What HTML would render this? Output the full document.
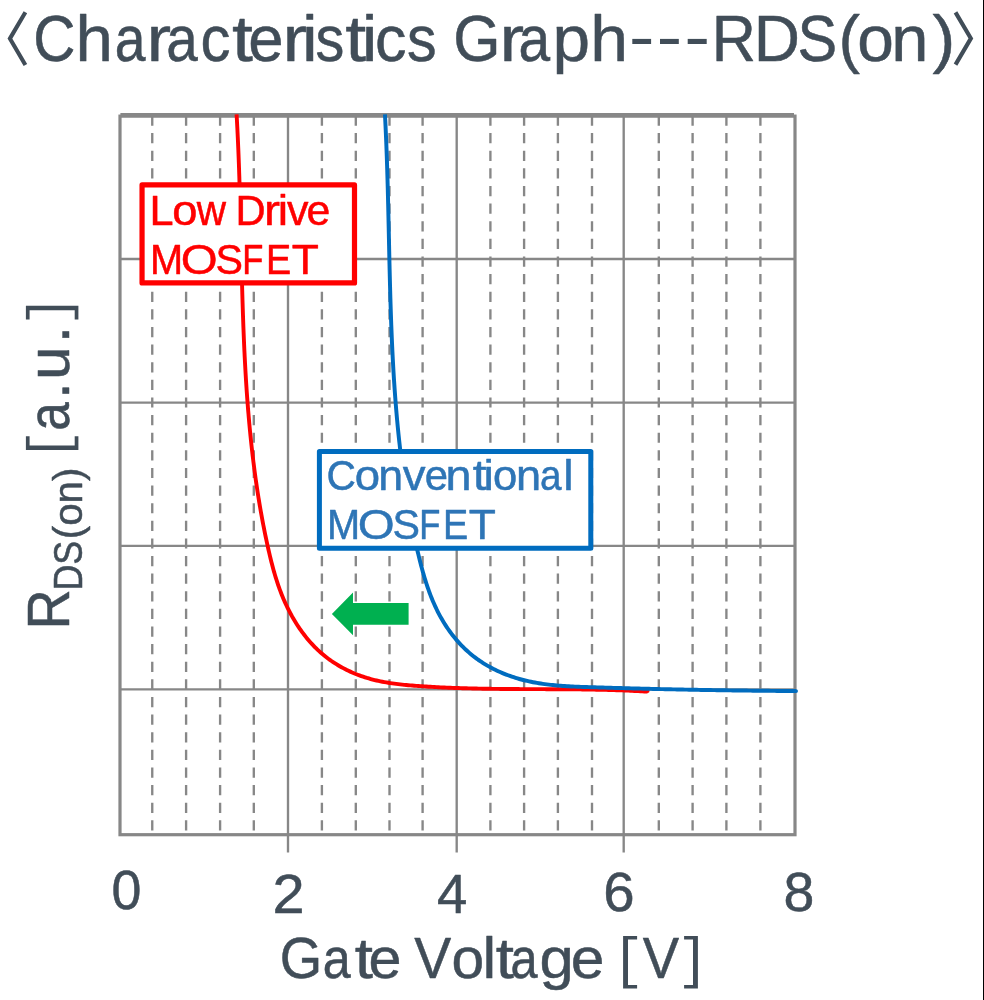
<!DOCTYPE html>
<html><head><meta charset="utf-8"><title>Characteristics Graph RDS(on)</title>
<style>
html,body{margin:0;padding:0;background:#fff;}
body{width:984px;height:1000px;overflow:hidden;}
svg{display:block;position:absolute;left:0;top:0;}
text{font-family:"Liberation Sans",sans-serif;font-kerning:none;white-space:pre;}
</style></head><body>
<svg width="984" height="1000" viewBox="0 0 984 1000">
<rect x="0" y="0" width="984" height="1000" fill="#ffffff"/>
<defs><filter id="soft" x="0" y="0" width="984" height="1000" filterUnits="userSpaceOnUse" color-interpolation-filters="sRGB"><feGaussianBlur stdDeviation="0.4"/></filter></defs>
<g filter="url(#soft)">
<g stroke="#878787" fill="none">
<line x1="152.25" y1="115.5" x2="152.25" y2="833" stroke-width="2.35" stroke-dasharray="10.2 7.42"/>
<line x1="186.1" y1="115.5" x2="186.1" y2="833" stroke-width="2.35" stroke-dasharray="10.2 7.42"/>
<line x1="220.1" y1="115.5" x2="220.1" y2="833" stroke-width="2.35" stroke-dasharray="10.2 7.42"/>
<line x1="253.8" y1="115.5" x2="253.8" y2="833" stroke-width="2.35" stroke-dasharray="10.2 7.42"/>
<line x1="321.9" y1="115.5" x2="321.9" y2="833" stroke-width="2.35" stroke-dasharray="10.2 7.42"/>
<line x1="355.8" y1="115.5" x2="355.8" y2="833" stroke-width="2.35" stroke-dasharray="10.2 7.42"/>
<line x1="389.5" y1="115.5" x2="389.5" y2="833" stroke-width="2.35" stroke-dasharray="10.2 7.42"/>
<line x1="422.6" y1="115.5" x2="422.6" y2="833" stroke-width="2.35" stroke-dasharray="10.2 7.42"/>
<line x1="490.4" y1="115.5" x2="490.4" y2="833" stroke-width="2.35" stroke-dasharray="10.2 7.42"/>
<line x1="524.1" y1="115.5" x2="524.1" y2="833" stroke-width="2.35" stroke-dasharray="10.2 7.42"/>
<line x1="557.9" y1="115.5" x2="557.9" y2="833" stroke-width="2.35" stroke-dasharray="10.2 7.42"/>
<line x1="592.0" y1="115.5" x2="592.0" y2="833" stroke-width="2.35" stroke-dasharray="10.2 7.42"/>
<line x1="658.8" y1="115.5" x2="658.8" y2="833" stroke-width="2.35" stroke-dasharray="10.2 7.42"/>
<line x1="692.6" y1="115.5" x2="692.6" y2="833" stroke-width="2.35" stroke-dasharray="10.2 7.42"/>
<line x1="726.4" y1="115.5" x2="726.4" y2="833" stroke-width="2.35" stroke-dasharray="10.2 7.42"/>
<line x1="760.4" y1="115.5" x2="760.4" y2="833" stroke-width="2.35" stroke-dasharray="10.2 7.42"/>
<line x1="120.0" y1="259.0" x2="795.0" y2="259.0" stroke-width="2.35"/>
<line x1="120.0" y1="402.6" x2="795.0" y2="402.6" stroke-width="2.35"/>
<line x1="120.0" y1="545.9" x2="795.0" y2="545.9" stroke-width="2.35"/>
<line x1="120.0" y1="689.4" x2="795.0" y2="689.4" stroke-width="2.35"/>
<line x1="288.0" y1="115.6" x2="288.0" y2="852.6" stroke-width="2.35"/>
<line x1="456.7" y1="115.6" x2="456.7" y2="852.6" stroke-width="2.35"/>
<line x1="623.7" y1="115.6" x2="623.7" y2="852.6" stroke-width="2.35"/>
<rect x="120.0" y="116.15" width="675.0" height="718.5500000000001" stroke-width="3.2"/>
<line x1="120.4" y1="114.3" x2="794.0" y2="114.3" stroke-width="2.4"/>
</g>
<path d="M236.59,114.46 L236.70,116.45 L236.82,118.44 L236.93,120.43 L237.03,122.42 L237.14,124.41 L237.24,126.40 L237.35,128.39 L237.45,130.38 L237.54,132.38 L237.64,134.37 L237.73,136.36 L237.83,138.35 L237.92,140.35 L238.01,142.34 L238.09,144.34 L238.18,146.33 L238.27,148.32 L238.35,150.32 L238.43,152.31 L238.51,154.31 L238.59,156.31 L238.66,158.30 L238.74,160.30 L238.81,162.29 L238.89,164.29 L238.96,166.29 L239.03,168.28 L239.10,170.28 L239.16,172.28 L239.23,174.28 L239.30,176.28 L239.36,178.27 L239.42,180.27 L239.49,182.27 L239.55,184.27 L239.61,186.27 L239.67,188.27 L239.72,190.27 L239.78,192.27 L239.84,194.27 L239.89,196.26 L239.95,198.26 L240.00,200.26 L240.06,202.27 L240.11,204.27 L240.16,206.27 L240.21,208.27 L240.27,210.27 L240.32,212.27 L240.37,214.27 L240.42,216.27 L240.46,218.27 L240.51,220.27 L240.56,222.27 L240.61,224.28 L240.66,226.28 L240.70,228.28 L240.75,230.28 L240.80,232.28 L240.84,234.29 L240.89,236.29 L240.94,238.29 L240.98,240.29 L241.03,242.29 L241.08,244.30 L241.12,246.30 L241.17,248.30 L241.22,250.30 L241.26,252.31 L241.31,254.31 L241.36,256.31 L241.40,258.31 L241.45,260.32 L241.50,262.32 L241.55,264.32 L241.60,266.32 L241.64,268.33 L241.69,270.33 L241.74,272.33 L241.79,274.33 L241.84,276.34 L241.89,278.34 L241.95,280.34 L242.00,282.34 L242.05,284.35 L242.11,286.35 L242.16,288.35 L242.22,290.35 L242.27,292.35 L242.33,294.36 L242.39,296.36 L242.44,298.36 L242.50,300.36 L242.56,302.36 L242.63,304.37 L242.69,306.37 L242.75,308.37 L242.82,310.37 L242.88,312.37 L242.95,314.37 L243.02,316.38 L243.09,318.38 L243.16,320.38 L243.23,322.38 L243.30,324.38 L243.37,326.38 L243.45,328.38 L243.53,330.38 L243.61,332.38 L243.69,334.38 L243.77,336.38 L243.85,338.38 L243.94,340.38 L244.02,342.38 L244.11,344.38 L244.20,346.38 L244.29,348.38 L244.38,350.37 L244.48,352.37 L244.58,354.37 L244.67,356.37 L244.78,358.37 L244.88,360.36 L244.98,362.36 L245.09,364.36 L245.20,366.36 L245.31,368.35 L245.42,370.35 L245.53,372.35 L245.65,374.34 L245.77,376.34 L245.89,378.33 L246.01,380.33 L246.14,382.32 L246.27,384.32 L246.40,386.31 L246.53,388.31 L246.66,390.30 L246.80,392.29 L246.94,394.29 L247.08,396.28 L247.23,398.27 L247.38,400.27 L247.53,402.26 L247.68,404.25 L247.84,406.24 L247.99,408.23 L248.15,410.22 L248.32,412.21 L248.49,414.20 L248.65,416.19 L248.83,418.18 L249.00,420.17 L249.18,422.16 L249.36,424.15 L249.55,426.14 L249.73,428.13 L249.92,430.11 L250.12,432.10 L250.31,434.09 L250.51,436.07 L250.71,438.06 L250.92,440.04 L251.13,442.03 L251.34,444.01 L251.56,446.00 L251.78,447.98 L252.00,449.97 L252.23,451.95 L252.46,453.93 L252.69,455.91 L252.93,457.89 L253.17,459.88 L253.41,461.86 L253.66,463.84 L253.91,465.82 L254.16,467.80 L254.42,469.78 L254.68,471.75 L254.95,473.73 L255.22,475.71 L255.49,477.69 L255.77,479.66 L256.05,481.64 L256.34,483.62 L256.63,485.59 L256.92,487.57 L257.22,489.54 L257.52,491.51 L257.83,493.49 L258.14,495.46 L258.45,497.43 L258.77,499.40 L259.09,501.38 L259.42,503.35 L259.75,505.32 L260.09,507.29 L260.43,509.25 L260.77,511.22 L261.12,513.19 L261.48,515.16 L261.84,517.12 L262.20,519.09 L262.57,521.06 L262.94,523.02 L263.31,524.99 L263.70,526.95 L264.08,528.91 L264.47,530.87 L264.87,532.84 L265.27,534.80 L265.67,536.76 L266.08,538.72 L266.50,540.68 L266.92,542.64 L267.35,544.60 L267.78,546.55 L268.21,548.51 L268.65,550.47 L269.10,552.42 L269.56,554.37 L270.02,556.33 L270.49,558.28 L270.97,560.22 L271.46,562.17 L271.96,564.11 L272.47,566.05 L272.99,567.99 L273.52,569.92 L274.06,571.86 L274.62,573.78 L275.19,575.71 L275.77,577.63 L276.37,579.54 L276.99,581.45 L277.62,583.36 L278.26,585.26 L278.92,587.16 L279.60,589.05 L280.30,590.93 L281.01,592.81 L281.75,594.69 L282.50,596.55 L283.28,598.42 L284.07,600.27 L284.89,602.12 L285.73,603.96 L286.58,605.79 L287.46,607.61 L288.36,609.43 L289.28,611.23 L290.22,613.02 L291.19,614.80 L292.17,616.57 L293.17,618.33 L294.20,620.07 L295.24,621.80 L296.31,623.51 L297.40,625.21 L298.51,626.89 L299.64,628.56 L300.79,630.21 L301.96,631.84 L303.16,633.46 L304.37,635.05 L305.61,636.63 L306.87,638.18 L308.14,639.72 L309.44,641.23 L310.76,642.72 L312.11,644.19 L313.47,645.64 L314.85,647.06 L316.26,648.46 L317.69,649.83 L319.13,651.18 L320.60,652.50 L322.10,653.79 L323.61,655.06 L325.14,656.30 L326.69,657.51 L328.27,658.69 L329.86,659.85 L331.47,660.98 L333.10,662.08 L334.74,663.16 L336.41,664.21 L338.09,665.23 L339.79,666.22 L341.50,667.19 L343.23,668.13 L344.98,669.05 L346.74,669.93 L348.51,670.79 L350.30,671.63 L352.10,672.43 L353.92,673.21 L355.74,673.96 L357.58,674.69 L359.43,675.39 L361.30,676.06 L363.17,676.71 L365.05,677.32 L366.94,677.92 L368.85,678.48 L370.76,679.02 L372.68,679.53 L374.60,680.02 L376.54,680.48 L378.48,680.91 L380.43,681.33 L382.39,681.72 L384.35,682.09 L386.32,682.44 L388.29,682.77 L390.27,683.09 L392.26,683.38 L394.24,683.66 L396.24,683.92 L398.23,684.17 L400.23,684.40 L402.23,684.62 L404.24,684.83 L406.25,685.03 L408.26,685.21 L410.27,685.39 L412.28,685.56 L414.29,685.72 L416.31,685.87 L418.32,686.01 L420.33,686.16 L422.35,686.29 L424.36,686.42 L426.37,686.55 L428.38,686.68 L430.39,686.80 L432.40,686.91 L434.41,687.02 L436.42,687.13 L438.43,687.23 L440.44,687.33 L442.44,687.43 L444.45,687.52 L446.46,687.61 L448.46,687.69 L450.47,687.78 L452.47,687.85 L454.48,687.93 L456.48,688.00 L458.49,688.07 L460.49,688.14 L462.50,688.20 L464.50,688.26 L466.50,688.32 L468.50,688.37 L470.51,688.42 L472.51,688.47 L474.51,688.52 L476.51,688.56 L478.51,688.60 L480.51,688.64 L482.51,688.68 L484.51,688.72 L486.51,688.75 L488.51,688.78 L490.51,688.81 L492.51,688.84 L494.50,688.86 L496.50,688.89 L498.50,688.91 L500.50,688.93 L502.50,688.95 L504.49,688.97 L506.49,688.99 L508.49,689.00 L510.48,689.02 L512.48,689.03 L514.48,689.04 L516.47,689.06 L518.47,689.07 L520.47,689.08 L522.46,689.09 L524.46,689.10 L526.45,689.10 L528.45,689.11 L530.45,689.12 L532.44,689.13 L534.44,689.14 L536.43,689.14 L538.43,689.15 L540.42,689.16 L542.42,689.16 L544.41,689.17 L546.41,689.18 L548.41,689.19 L550.40,689.20 L552.40,689.20 L554.39,689.21 L556.39,689.22 L558.38,689.23 L560.38,689.25 L562.37,689.26 L564.37,689.27 L566.37,689.29 L568.36,689.30 L570.36,689.32 L572.35,689.34 L574.35,689.36 L576.35,689.38 L578.34,689.40 L580.34,689.42 L582.34,689.45 L584.33,689.47 L586.33,689.50 L588.33,689.53 L590.32,689.57 L592.32,689.60 L594.32,689.64 L596.32,689.68 L598.32,689.72 L600.31,689.76 L602.31,689.81 L604.31,689.86 L606.31,689.91 L608.31,689.96 L610.31,690.02 L612.31,690.08 L614.31,690.14 L616.31,690.20 L618.31,690.27 L620.31,690.34 L622.32,690.42 L624.32,690.49 L626.32,690.57 L628.32,690.66 L630.33,690.74 L632.33,690.84 L634.33,690.93 L636.34,691.03 L638.34,691.13 L640.35,691.24 L642.35,691.35 L644.36,691.46 L646.36,691.58 L647.62,691.65" fill="none" stroke="#ff0000" stroke-width="3.9" stroke-linecap="butt" stroke-linejoin="round"/>
<circle cx="647.6" cy="691.1" r="1.95" fill="#ff0000"/>
<path d="M384.95,114.39 L385.05,116.39 L385.16,118.39 L385.26,120.38 L385.36,122.38 L385.45,124.38 L385.55,126.37 L385.64,128.37 L385.73,130.37 L385.82,132.37 L385.91,134.36 L386.00,136.36 L386.08,138.36 L386.17,140.36 L386.25,142.36 L386.33,144.35 L386.41,146.35 L386.48,148.35 L386.56,150.35 L386.63,152.35 L386.71,154.35 L386.78,156.35 L386.85,158.35 L386.92,160.34 L386.98,162.34 L387.05,164.34 L387.12,166.34 L387.18,168.34 L387.24,170.34 L387.30,172.34 L387.36,174.34 L387.42,176.34 L387.48,178.34 L387.54,180.34 L387.59,182.34 L387.65,184.34 L387.70,186.34 L387.76,188.34 L387.81,190.35 L387.86,192.35 L387.91,194.35 L387.97,196.35 L388.02,198.35 L388.06,200.35 L388.11,202.35 L388.16,204.35 L388.21,206.35 L388.26,208.35 L388.30,210.35 L388.35,212.36 L388.39,214.36 L388.44,216.36 L388.49,218.36 L388.53,220.36 L388.57,222.36 L388.62,224.36 L388.66,226.36 L388.71,228.37 L388.75,230.37 L388.79,232.37 L388.84,234.37 L388.88,236.37 L388.92,238.37 L388.97,240.37 L389.01,242.38 L389.05,244.38 L389.10,246.38 L389.14,248.38 L389.18,250.38 L389.23,252.38 L389.27,254.38 L389.32,256.38 L389.36,258.38 L389.41,260.39 L389.45,262.39 L389.50,264.39 L389.55,266.39 L389.59,268.39 L389.64,270.39 L389.69,272.39 L389.74,274.39 L389.79,276.39 L389.84,278.39 L389.89,280.39 L389.94,282.39 L389.99,284.39 L390.05,286.39 L390.10,288.39 L390.15,290.39 L390.21,292.39 L390.27,294.39 L390.32,296.39 L390.38,298.39 L390.44,300.39 L390.50,302.39 L390.56,304.39 L390.62,306.39 L390.69,308.39 L390.75,310.39 L390.82,312.39 L390.89,314.39 L390.96,316.39 L391.03,318.38 L391.10,320.38 L391.17,322.38 L391.24,324.38 L391.32,326.38 L391.40,328.38 L391.48,330.37 L391.56,332.37 L391.64,334.37 L391.72,336.37 L391.81,338.36 L391.89,340.36 L391.98,342.36 L392.07,344.35 L392.16,346.35 L392.26,348.35 L392.35,350.34 L392.45,352.34 L392.55,354.33 L392.65,356.33 L392.75,358.32 L392.86,360.32 L392.97,362.31 L393.08,364.31 L393.19,366.30 L393.30,368.30 L393.42,370.29 L393.54,372.29 L393.66,374.28 L393.78,376.27 L393.90,378.27 L394.03,380.26 L394.16,382.25 L394.29,384.24 L394.43,386.24 L394.56,388.23 L394.70,390.22 L394.85,392.21 L394.99,394.20 L395.14,396.20 L395.29,398.19 L395.44,400.18 L395.60,402.17 L395.75,404.16 L395.92,406.15 L396.08,408.14 L396.25,410.13 L396.42,412.11 L396.59,414.10 L396.76,416.09 L396.94,418.08 L397.12,420.07 L397.31,422.06 L397.49,424.04 L397.68,426.03 L397.88,428.02 L398.08,430.00 L398.28,431.99 L398.48,433.98 L398.69,435.96 L398.90,437.95 L399.11,439.93 L399.33,441.92 L399.55,443.90 L399.77,445.88 L400.00,447.87 L400.23,449.85 L400.46,451.83 L400.70,453.82 L400.94,455.80 L401.18,457.78 L401.43,459.76 L401.69,461.74 L401.94,463.72 L402.20,465.70 L402.47,467.68 L402.73,469.66 L403.00,471.64 L403.28,473.62 L403.56,475.60 L403.84,477.58 L404.13,479.56 L404.42,481.54 L404.72,483.51 L405.02,485.49 L405.32,487.47 L405.63,489.44 L405.94,491.42 L406.26,493.39 L406.58,495.37 L406.90,497.34 L407.23,499.32 L407.56,501.29 L407.90,503.26 L408.24,505.24 L408.59,507.21 L408.94,509.18 L409.30,511.15 L409.66,513.12 L410.02,515.09 L410.39,517.06 L410.77,519.03 L411.15,521.00 L411.53,522.97 L411.92,524.94 L412.31,526.91 L412.71,528.87 L413.12,530.84 L413.52,532.81 L413.94,534.77 L414.36,536.74 L414.78,538.70 L415.21,540.67 L415.64,542.63 L416.08,544.60 L416.52,546.56 L416.97,548.52 L417.42,550.49 L417.88,552.45 L418.35,554.41 L418.82,556.37 L419.30,558.33 L419.78,560.28 L420.28,562.24 L420.78,564.19 L421.29,566.14 L421.81,568.09 L422.34,570.03 L422.88,571.97 L423.43,573.91 L423.99,575.84 L424.56,577.76 L425.15,579.69 L425.75,581.60 L426.37,583.51 L426.99,585.42 L427.64,587.32 L428.30,589.21 L428.97,591.09 L429.66,592.97 L430.37,594.84 L431.09,596.70 L431.83,598.56 L432.60,600.40 L433.38,602.24 L434.18,604.07 L435.00,605.88 L435.84,607.69 L436.70,609.49 L437.58,611.28 L438.48,613.05 L439.41,614.82 L440.36,616.57 L441.34,618.32 L442.34,620.05 L443.36,621.76 L444.41,623.47 L445.48,625.16 L446.58,626.83 L447.70,628.49 L448.85,630.14 L450.02,631.76 L451.21,633.37 L452.43,634.97 L453.67,636.54 L454.93,638.09 L456.22,639.63 L457.53,641.14 L458.86,642.63 L460.22,644.10 L461.59,645.55 L462.99,646.97 L464.42,648.37 L465.86,649.74 L467.33,651.08 L468.81,652.40 L470.32,653.70 L471.85,654.96 L473.40,656.20 L474.98,657.41 L476.57,658.59 L478.18,659.75 L479.81,660.87 L481.46,661.97 L483.12,663.04 L484.81,664.09 L486.51,665.11 L488.22,666.10 L489.96,667.06 L491.70,668.00 L493.47,668.91 L495.24,669.80 L497.03,670.66 L498.84,671.49 L500.65,672.30 L502.48,673.08 L504.32,673.84 L506.17,674.57 L508.04,675.27 L509.91,675.95 L511.79,676.61 L513.68,677.24 L515.58,677.84 L517.49,678.42 L519.40,678.98 L521.32,679.51 L523.25,680.01 L525.18,680.50 L527.12,680.95 L529.07,681.39 L531.02,681.80 L532.97,682.19 L534.93,682.56 L536.90,682.91 L538.86,683.24 L540.84,683.55 L542.82,683.84 L544.80,684.12 L546.78,684.38 L548.77,684.62 L550.76,684.85 L552.75,685.06 L554.75,685.25 L556.75,685.44 L558.75,685.61 L560.76,685.77 L562.76,685.92 L564.77,686.06 L566.78,686.18 L568.79,686.30 L570.81,686.41 L572.82,686.51 L574.83,686.61 L576.85,686.70 L578.87,686.78 L580.88,686.86 L582.90,686.93 L584.91,687.00 L586.93,687.07 L588.94,687.14 L590.96,687.20 L592.97,687.26 L594.98,687.33 L597.00,687.39 L599.01,687.45 L601.02,687.51 L603.03,687.57 L605.03,687.63 L607.04,687.69 L609.05,687.75 L611.05,687.81 L613.06,687.86 L615.06,687.92 L617.06,687.98 L619.07,688.03 L621.07,688.09 L623.07,688.14 L625.07,688.20 L627.07,688.25 L629.07,688.31 L631.07,688.36 L633.07,688.41 L635.06,688.47 L637.06,688.52 L639.06,688.57 L641.05,688.62 L643.05,688.67 L645.04,688.72 L647.04,688.77 L649.03,688.82 L651.03,688.86 L653.02,688.91 L655.01,688.96 L657.01,689.01 L659.00,689.05 L660.99,689.10 L662.98,689.14 L664.97,689.19 L666.97,689.23 L668.96,689.27 L670.95,689.32 L672.94,689.36 L674.93,689.40 L676.92,689.44 L678.91,689.49 L680.90,689.53 L682.89,689.57 L684.88,689.61 L686.87,689.64 L688.86,689.68 L690.85,689.72 L692.84,689.76 L694.83,689.80 L696.83,689.83 L698.82,689.87 L700.81,689.91 L702.80,689.94 L704.79,689.98 L706.78,690.01 L708.77,690.04 L710.76,690.08 L712.76,690.11 L714.75,690.14 L716.74,690.17 L718.74,690.20 L720.73,690.24 L722.72,690.27 L724.72,690.30 L726.71,690.33 L728.71,690.35 L730.70,690.38 L732.70,690.41 L734.70,690.44 L736.69,690.46 L738.69,690.49 L740.69,690.52 L742.69,690.54 L744.69,690.57 L746.69,690.59 L748.69,690.62 L750.69,690.64 L752.69,690.66 L754.69,690.69 L756.70,690.71 L758.70,690.73 L760.71,690.75 L762.71,690.77 L764.72,690.79 L766.72,690.81 L768.73,690.83 L770.74,690.85 L772.75,690.87 L774.76,690.89 L776.77,690.90 L778.79,690.92 L780.80,690.94 L782.82,690.95 L784.83,690.97 L786.85,690.98 L788.87,691.00 L790.89,691.01 L792.91,691.03 L794.93,691.04 L796.04,691.05" fill="none" stroke="#006cbf" stroke-width="3.95" stroke-linecap="butt" stroke-linejoin="round"/>
<circle cx="796.0" cy="691.1" r="1.97" fill="#006cbf"/>
<polygon points="331.9,613.9 353.0,592.5 353.0,603.0 408.6,603.0 408.6,624.8 353.0,624.8 353.0,635.3" fill="#00b050"/>
<rect x="142.05" y="184.95" width="212.45" height="98.00" fill="#ffffff" stroke="#ff0000" stroke-width="5.2" stroke-linejoin="round"/>
<rect x="319.4" y="451.5" width="271.40" height="96.65" fill="#ffffff" stroke="#006cbf" stroke-width="5.0" stroke-linejoin="round"/>
<text transform="translate(149.55,224.80) scale(1.0004,1)" font-size="43.3" fill="#ff0000" stroke="#ff0000" stroke-width="0.5" vector-effect="non-scaling-stroke" stroke-linejoin="round">L</text>
<text transform="translate(172.30,224.80) scale(1.0843,1)" font-size="41.8" fill="#ff0000" stroke="#ff0000" stroke-width="0.5" vector-effect="non-scaling-stroke" stroke-linejoin="round">o</text>
<text transform="translate(196.86,224.80) scale(0.9687,1)" font-size="41.8" fill="#ff0000" stroke="#ff0000" stroke-width="0.5" vector-effect="non-scaling-stroke" stroke-linejoin="round">w</text>
<text transform="translate(235.38,224.80) scale(0.9631,1)" font-size="43.3" fill="#ff0000" stroke="#ff0000" stroke-width="0.5" vector-effect="non-scaling-stroke" stroke-linejoin="round">D</text>
<text transform="translate(264.01,224.80) scale(1.1500,1)" font-size="41.8" fill="#ff0000" stroke="#ff0000" stroke-width="0.5" vector-effect="non-scaling-stroke" stroke-linejoin="round">r</text>
<text transform="translate(277.67,224.80) scale(1.0800,1)" font-size="43.3" fill="#ff0000" stroke="#ff0000" stroke-width="0.5" vector-effect="non-scaling-stroke" stroke-linejoin="round">i</text>
<text transform="translate(286.95,224.80) scale(1.0284,1)" font-size="41.8" fill="#ff0000" stroke="#ff0000" stroke-width="0.5" vector-effect="non-scaling-stroke" stroke-linejoin="round">v</text>
<text transform="translate(306.58,224.80) scale(1.0248,1)" font-size="41.8" fill="#ff0000" stroke="#ff0000" stroke-width="0.5" vector-effect="non-scaling-stroke" stroke-linejoin="round">e</text>
<text transform="translate(149.94,273.90) scale(0.9183,1)" font-size="43.3" fill="#ff0000" stroke="#ff0000" stroke-width="0.5" vector-effect="non-scaling-stroke" stroke-linejoin="round">M</text>
<text transform="translate(180.75,273.90) scale(1.0962,1)" font-size="43.3" fill="#ff0000" stroke="#ff0000" stroke-width="0.5" vector-effect="non-scaling-stroke" stroke-linejoin="round">O</text>
<text transform="translate(215.43,273.90) scale(0.9508,1)" font-size="43.3" fill="#ff0000" stroke="#ff0000" stroke-width="0.5" vector-effect="non-scaling-stroke" stroke-linejoin="round">S</text>
<text transform="translate(242.36,273.90) scale(0.7985,1)" font-size="43.3" fill="#ff0000" stroke="#ff0000" stroke-width="0.5" vector-effect="non-scaling-stroke" stroke-linejoin="round">F</text>
<text transform="translate(265.90,273.90) scale(0.8735,1)" font-size="43.3" fill="#ff0000" stroke="#ff0000" stroke-width="0.5" vector-effect="non-scaling-stroke" stroke-linejoin="round">E</text>
<text transform="translate(291.80,273.90) scale(1.0252,1)" font-size="43.3" fill="#ff0000" stroke="#ff0000" stroke-width="0.5" vector-effect="non-scaling-stroke" stroke-linejoin="round">T</text>
<text transform="translate(326.53,490.40) scale(0.9409,1)" font-size="43.3" fill="#2e75b6" stroke="#2e75b6" stroke-width="0.5" vector-effect="non-scaling-stroke" stroke-linejoin="round">C</text>
<text transform="translate(354.69,490.40) scale(1.0893,1)" font-size="41.8" fill="#2e75b6" stroke="#2e75b6" stroke-width="0.5" vector-effect="non-scaling-stroke" stroke-linejoin="round">o</text>
<text transform="translate(378.23,490.40) scale(1.0700,1)" font-size="41.8" fill="#2e75b6" stroke="#2e75b6" stroke-width="0.5" vector-effect="non-scaling-stroke" stroke-linejoin="round">n</text>
<text transform="translate(402.64,490.40) scale(1.0915,1)" font-size="41.8" fill="#2e75b6" stroke="#2e75b6" stroke-width="0.5" vector-effect="non-scaling-stroke" stroke-linejoin="round">v</text>
<text transform="translate(424.63,490.40) scale(0.9993,1)" font-size="41.8" fill="#2e75b6" stroke="#2e75b6" stroke-width="0.5" vector-effect="non-scaling-stroke" stroke-linejoin="round">e</text>
<text transform="translate(445.39,490.40) scale(1.1207,1)" font-size="41.8" fill="#2e75b6" stroke="#2e75b6" stroke-width="0.5" vector-effect="non-scaling-stroke" stroke-linejoin="round">n</text>
<text transform="translate(472.69,490.40) scale(1.1500,1)" font-size="43.3" fill="#2e75b6" stroke="#2e75b6" stroke-width="0.5" vector-effect="non-scaling-stroke" stroke-linejoin="round">t</text>
<text transform="translate(483.52,490.40) scale(1.0800,1)" font-size="43.3" fill="#2e75b6" stroke="#2e75b6" stroke-width="0.5" vector-effect="non-scaling-stroke" stroke-linejoin="round">i</text>
<text transform="translate(492.97,490.40) scale(1.0437,1)" font-size="41.8" fill="#2e75b6" stroke="#2e75b6" stroke-width="0.5" vector-effect="non-scaling-stroke" stroke-linejoin="round">o</text>
<text transform="translate(515.90,490.40) scale(1.0813,1)" font-size="41.8" fill="#2e75b6" stroke="#2e75b6" stroke-width="0.5" vector-effect="non-scaling-stroke" stroke-linejoin="round">n</text>
<text transform="translate(540.05,490.40) scale(0.9268,1)" font-size="41.8" fill="#2e75b6" stroke="#2e75b6" stroke-width="0.5" vector-effect="non-scaling-stroke" stroke-linejoin="round">a</text>
<text transform="translate(563.19,490.40) scale(1.0800,1)" font-size="43.3" fill="#2e75b6" stroke="#2e75b6" stroke-width="0.5" vector-effect="non-scaling-stroke" stroke-linejoin="round">l</text>
<text transform="translate(326.94,538.90) scale(0.9183,1)" font-size="43.3" fill="#2e75b6" stroke="#2e75b6" stroke-width="0.5" vector-effect="non-scaling-stroke" stroke-linejoin="round">M</text>
<text transform="translate(357.75,538.90) scale(1.0962,1)" font-size="43.3" fill="#2e75b6" stroke="#2e75b6" stroke-width="0.5" vector-effect="non-scaling-stroke" stroke-linejoin="round">O</text>
<text transform="translate(392.43,538.90) scale(0.9508,1)" font-size="43.3" fill="#2e75b6" stroke="#2e75b6" stroke-width="0.5" vector-effect="non-scaling-stroke" stroke-linejoin="round">S</text>
<text transform="translate(419.36,538.90) scale(0.7985,1)" font-size="43.3" fill="#2e75b6" stroke="#2e75b6" stroke-width="0.5" vector-effect="non-scaling-stroke" stroke-linejoin="round">F</text>
<text transform="translate(442.90,538.90) scale(0.8735,1)" font-size="43.3" fill="#2e75b6" stroke="#2e75b6" stroke-width="0.5" vector-effect="non-scaling-stroke" stroke-linejoin="round">E</text>
<text transform="translate(468.80,538.90) scale(1.0252,1)" font-size="43.3" fill="#2e75b6" stroke="#2e75b6" stroke-width="0.5" vector-effect="non-scaling-stroke" stroke-linejoin="round">T</text>
<polyline points="25.4,12.3 9.9,38.6 25.4,65.0" fill="none" stroke="#414d58" stroke-width="4.1" stroke-linejoin="miter"/>
<polyline points="955.5,12.4 970.9,38.4 955.5,64.6" fill="none" stroke="#414d58" stroke-width="4.1" stroke-linejoin="miter"/>
<text transform="translate(33.33,60.60) scale(0.8920,1)" font-size="65.5" fill="#414d58" stroke="#414d58" stroke-width="0.5" vector-effect="non-scaling-stroke" stroke-linejoin="round">C</text>
<text transform="translate(75.53,60.60) scale(1.0278,1)" font-size="65.5" fill="#414d58" stroke="#414d58" stroke-width="0.5" vector-effect="non-scaling-stroke" stroke-linejoin="round">h</text>
<text transform="translate(114.85,60.60) scale(0.8598,1)" font-size="64.3" fill="#414d58" stroke="#414d58" stroke-width="0.5" vector-effect="non-scaling-stroke" stroke-linejoin="round">a</text>
<text transform="translate(146.59,60.60) scale(1.1500,1)" font-size="64.3" fill="#414d58" stroke="#414d58" stroke-width="0.5" vector-effect="non-scaling-stroke" stroke-linejoin="round">r</text>
<text transform="translate(166.29,60.60) scale(0.8810,1)" font-size="64.3" fill="#414d58" stroke="#414d58" stroke-width="0.5" vector-effect="non-scaling-stroke" stroke-linejoin="round">a</text>
<text transform="translate(200.46,60.60) scale(0.9306,1)" font-size="64.3" fill="#414d58" stroke="#414d58" stroke-width="0.5" vector-effect="non-scaling-stroke" stroke-linejoin="round">c</text>
<text transform="translate(231.89,60.60) scale(1.1500,1)" font-size="65.5" fill="#414d58" stroke="#414d58" stroke-width="0.5" vector-effect="non-scaling-stroke" stroke-linejoin="round">t</text>
<text transform="translate(248.30,60.60) scale(0.9877,1)" font-size="64.3" fill="#414d58" stroke="#414d58" stroke-width="0.5" vector-effect="non-scaling-stroke" stroke-linejoin="round">e</text>
<text transform="translate(282.49,60.60) scale(1.1500,1)" font-size="64.3" fill="#414d58" stroke="#414d58" stroke-width="0.5" vector-effect="non-scaling-stroke" stroke-linejoin="round">r</text>
<text transform="translate(301.96,60.60) scale(1.0800,1)" font-size="65.5" fill="#414d58" stroke="#414d58" stroke-width="0.5" vector-effect="non-scaling-stroke" stroke-linejoin="round">i</text>
<text transform="translate(315.50,60.60) scale(0.8952,1)" font-size="64.3" fill="#414d58" stroke="#414d58" stroke-width="0.5" vector-effect="non-scaling-stroke" stroke-linejoin="round">s</text>
<text transform="translate(345.14,60.60) scale(1.1500,1)" font-size="65.5" fill="#414d58" stroke="#414d58" stroke-width="0.5" vector-effect="non-scaling-stroke" stroke-linejoin="round">t</text>
<text transform="translate(361.76,60.60) scale(1.0800,1)" font-size="65.5" fill="#414d58" stroke="#414d58" stroke-width="0.5" vector-effect="non-scaling-stroke" stroke-linejoin="round">i</text>
<text transform="translate(374.93,60.60) scale(0.9775,1)" font-size="64.3" fill="#414d58" stroke="#414d58" stroke-width="0.5" vector-effect="non-scaling-stroke" stroke-linejoin="round">c</text>
<text transform="translate(407.05,60.60) scale(0.9202,1)" font-size="64.3" fill="#414d58" stroke="#414d58" stroke-width="0.5" vector-effect="non-scaling-stroke" stroke-linejoin="round">s</text>
<text transform="translate(453.14,60.60) scale(0.9284,1)" font-size="65.5" fill="#414d58" stroke="#414d58" stroke-width="0.5" vector-effect="non-scaling-stroke" stroke-linejoin="round">G</text>
<text transform="translate(499.49,60.60) scale(1.1500,1)" font-size="64.3" fill="#414d58" stroke="#414d58" stroke-width="0.5" vector-effect="non-scaling-stroke" stroke-linejoin="round">r</text>
<text transform="translate(518.59,60.60) scale(0.8841,1)" font-size="64.3" fill="#414d58" stroke="#414d58" stroke-width="0.5" vector-effect="non-scaling-stroke" stroke-linejoin="round">a</text>
<text transform="translate(552.54,60.60) scale(1.0513,1)" font-size="64.3" fill="#414d58" stroke="#414d58" stroke-width="0.5" vector-effect="non-scaling-stroke" stroke-linejoin="round">p</text>
<text transform="translate(590.18,60.60) scale(1.0386,1)" font-size="65.5" fill="#414d58" stroke="#414d58" stroke-width="0.5" vector-effect="non-scaling-stroke" stroke-linejoin="round">h</text>
<rect x="632.3" y="38.9" width="18.8" height="5.1" fill="#414d58"/>
<rect x="660.0" y="38.9" width="18.8" height="5.1" fill="#414d58"/>
<rect x="687.7" y="38.9" width="19.0" height="5.1" fill="#414d58"/>
<text transform="translate(711.68,60.60) scale(0.9334,1)" font-size="65.5" fill="#414d58" stroke="#414d58" stroke-width="0.5" vector-effect="non-scaling-stroke" stroke-linejoin="round">R</text>
<text transform="translate(753.75,60.60) scale(0.9769,1)" font-size="65.5" fill="#414d58" stroke="#414d58" stroke-width="0.5" vector-effect="non-scaling-stroke" stroke-linejoin="round">D</text>
<text transform="translate(797.49,60.60) scale(0.9096,1)" font-size="65.5" fill="#414d58" stroke="#414d58" stroke-width="0.5" vector-effect="non-scaling-stroke" stroke-linejoin="round">S</text>
<text transform="translate(838.50,60.60) scale(0.9847,1)" font-size="65.5" fill="#414d58" stroke="#414d58" stroke-width="0.5" vector-effect="non-scaling-stroke" stroke-linejoin="round">(</text>
<text transform="translate(857.13,60.60) scale(1.0244,1)" font-size="64.3" fill="#414d58" stroke="#414d58" stroke-width="0.5" vector-effect="non-scaling-stroke" stroke-linejoin="round">o</text>
<text transform="translate(891.16,60.60) scale(1.0397,1)" font-size="64.3" fill="#414d58" stroke="#414d58" stroke-width="0.5" vector-effect="non-scaling-stroke" stroke-linejoin="round">n</text>
<text transform="translate(932.60,60.60) scale(1.0422,1)" font-size="65.5" fill="#414d58" stroke="#414d58" stroke-width="0.5" vector-effect="non-scaling-stroke" stroke-linejoin="round">)</text>
<text transform="translate(111.50,909.10) scale(0.9704,1)" font-size="55.4" fill="#414d58" stroke="#414d58" stroke-width="0.5" vector-effect="non-scaling-stroke" stroke-linejoin="round">0</text>
<text transform="translate(272.40,913.00) scale(1.0421,1)" font-size="55.4" fill="#414d58" stroke="#414d58" stroke-width="0.5" vector-effect="non-scaling-stroke" stroke-linejoin="round">2</text>
<text transform="translate(437.05,913.00) scale(0.9851,1)" font-size="55.4" fill="#414d58" stroke="#414d58" stroke-width="0.5" vector-effect="non-scaling-stroke" stroke-linejoin="round">4</text>
<text transform="translate(603.34,910.80) scale(1.0171,1)" font-size="55.4" fill="#414d58" stroke="#414d58" stroke-width="0.5" vector-effect="non-scaling-stroke" stroke-linejoin="round">6</text>
<text transform="translate(783.49,910.80) scale(1.0002,1)" font-size="55.4" fill="#414d58" stroke="#414d58" stroke-width="0.5" vector-effect="non-scaling-stroke" stroke-linejoin="round">8</text>
<text transform="translate(279.86,978.20) scale(0.9567,1)" font-size="57.0" fill="#414d58" stroke="#414d58" stroke-width="0.5" vector-effect="non-scaling-stroke" stroke-linejoin="round">G</text>
<text transform="translate(322.77,978.20) scale(0.8812,1)" font-size="57.0" fill="#414d58" stroke="#414d58" stroke-width="0.5" vector-effect="non-scaling-stroke" stroke-linejoin="round">a</text>
<text transform="translate(354.84,978.20) scale(1.1500,1)" font-size="57.0" fill="#414d58" stroke="#414d58" stroke-width="0.5" vector-effect="non-scaling-stroke" stroke-linejoin="round">t</text>
<text transform="translate(368.58,978.20) scale(1.0394,1)" font-size="57.0" fill="#414d58" stroke="#414d58" stroke-width="0.5" vector-effect="non-scaling-stroke" stroke-linejoin="round">e</text>
<text transform="translate(414.26,978.20) scale(0.9729,1)" font-size="57.0" fill="#414d58" stroke="#414d58" stroke-width="0.5" vector-effect="non-scaling-stroke" stroke-linejoin="round">V</text>
<text transform="translate(451.44,978.20) scale(1.0292,1)" font-size="57.0" fill="#414d58" stroke="#414d58" stroke-width="0.5" vector-effect="non-scaling-stroke" stroke-linejoin="round">o</text>
<text transform="translate(482.60,978.20) scale(1.0800,1)" font-size="57.0" fill="#414d58" stroke="#414d58" stroke-width="0.5" vector-effect="non-scaling-stroke" stroke-linejoin="round">l</text>
<text transform="translate(495.64,978.20) scale(1.1500,1)" font-size="57.0" fill="#414d58" stroke="#414d58" stroke-width="0.5" vector-effect="non-scaling-stroke" stroke-linejoin="round">t</text>
<text transform="translate(510.53,978.20) scale(0.8538,1)" font-size="57.0" fill="#414d58" stroke="#414d58" stroke-width="0.5" vector-effect="non-scaling-stroke" stroke-linejoin="round">a</text>
<text transform="translate(539.61,978.20) scale(1.0806,1)" font-size="57.0" fill="#414d58" stroke="#414d58" stroke-width="0.5" vector-effect="non-scaling-stroke" stroke-linejoin="round">g</text>
<text transform="translate(570.63,978.20) scale(1.0618,1)" font-size="57.0" fill="#414d58" stroke="#414d58" stroke-width="0.5" vector-effect="non-scaling-stroke" stroke-linejoin="round">e</text>
<polygon points="623.1,936.1 637.1,936.1 637.1,939.4 628.0,939.4 628.0,985.1 637.1,985.1 637.1,988.4 623.1,988.4" fill="#414d58"/>
<text transform="translate(642.76,978.20) scale(0.9569,1)" font-size="57.0" fill="#414d58" stroke="#414d58" stroke-width="0.5" vector-effect="non-scaling-stroke" stroke-linejoin="round">V</text>
<polygon points="697.9,936.1 684.1,936.1 684.1,939.4 693.0,939.4 693.0,985.1 684.1,985.1 684.1,988.4 697.9,988.4" fill="#414d58"/>
<text transform="translate(68.90,629.39) rotate(-90) scale(0.9429,1)" font-size="59.3" fill="#414d58" stroke="#414d58" stroke-width="0.5" vector-effect="non-scaling-stroke" stroke-linejoin="round">R</text>
<text transform="translate(81.60,590.54) rotate(-90) scale(0.8677,1)" font-size="41.3" fill="#414d58" stroke="#414d58" stroke-width="0.5" vector-effect="non-scaling-stroke" stroke-linejoin="round">DS</text>
<text transform="translate(81.60,539.19) rotate(-90) scale(0.9733,1)" font-size="41.3" fill="#414d58" stroke="#414d58" stroke-width="0.5" vector-effect="non-scaling-stroke" stroke-linejoin="round">(on)</text>
<polygon points="25.9,436.2 29.6,436.2 29.6,445.4 74.7,445.4 74.7,436.2 78.4,436.2 78.4,449.9 25.9,449.9" fill="#414d58"/>
<text transform="translate(68.90,430.78) rotate(-90) scale(0.8634,1)" font-size="59.3" fill="#414d58" stroke="#414d58" stroke-width="0.5" vector-effect="non-scaling-stroke" stroke-linejoin="round">a</text>
<text transform="translate(68.90,399.36) rotate(-90) scale(1.0449,1)" font-size="59.3" fill="#414d58" stroke="#414d58" stroke-width="0.5" vector-effect="non-scaling-stroke" stroke-linejoin="round">.</text>
<text transform="translate(68.90,379.78) rotate(-90) scale(1.0083,1)" font-size="59.3" fill="#414d58" stroke="#414d58" stroke-width="0.5" vector-effect="non-scaling-stroke" stroke-linejoin="round">u</text>
<text transform="translate(68.90,343.64) rotate(-90) scale(1.1158,1)" font-size="59.3" fill="#414d58" stroke="#414d58" stroke-width="0.5" vector-effect="non-scaling-stroke" stroke-linejoin="round">.</text>
<polygon points="25.9,319.5 29.6,319.5 29.6,310.2 74.7,310.2 74.7,319.5 78.4,319.5 78.4,305.7 25.9,305.7" fill="#414d58"/>
</g>
<rect x="983" y="0" width="1" height="1000" fill="#000000"/>
</svg>
</body></html>
